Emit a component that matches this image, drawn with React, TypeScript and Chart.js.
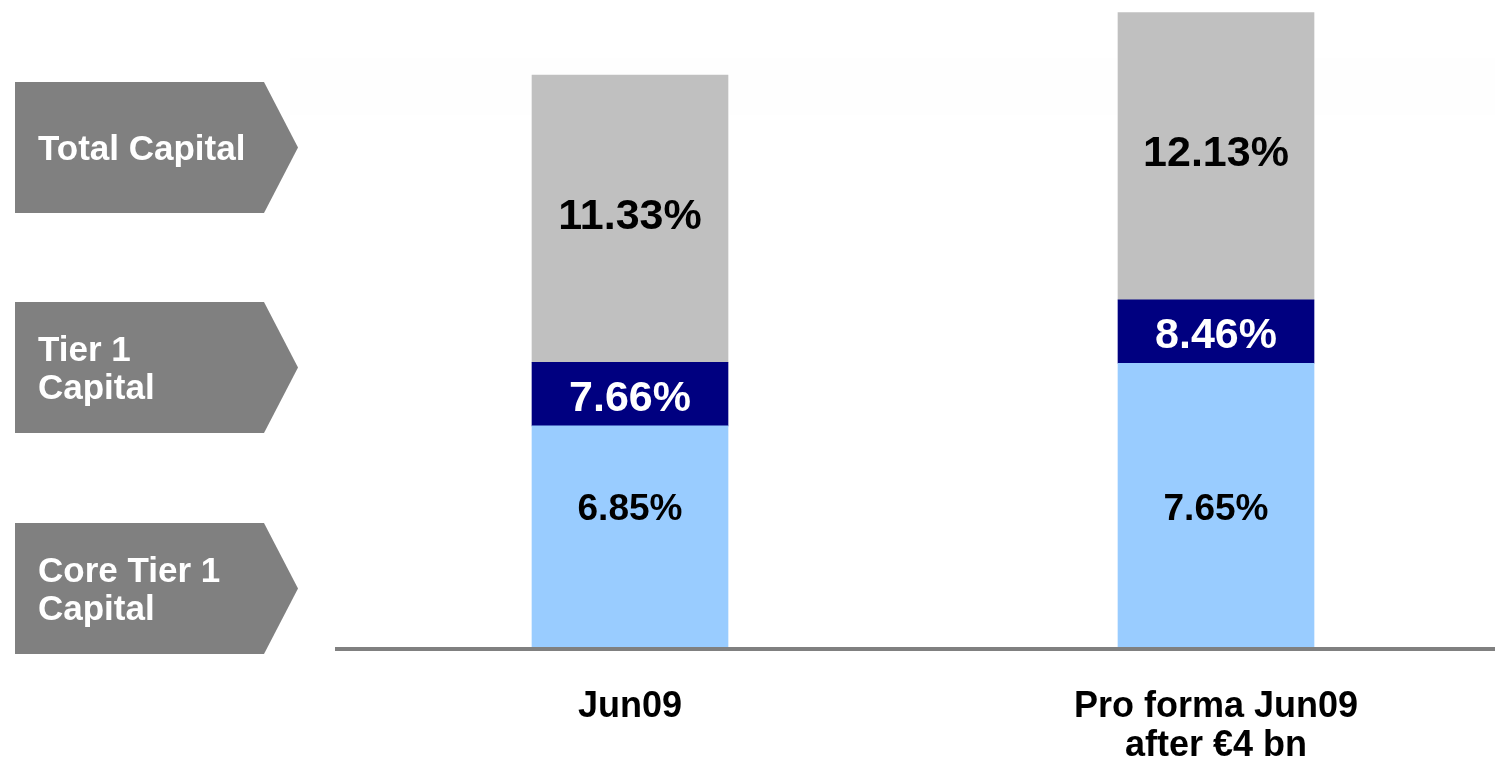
import React, { useEffect, useRef } from "react";
import { Chart, registerables } from "chart.js";

Chart.register(...registerables);

// Categories (x-axis tick labels)
const categories: (string | string[])[] = ["Jun09", ["Pro forma Jun09", "after \u20ac4 bn"]];

// Cumulative capital ratios (%) as shown on the bars
const coreTier1 = [6.85, 7.65];
const tier1 = [7.66, 8.46];
const totalCapital = [11.33, 12.13];

// Left-hand legend arrows
const legendLabels: string[][] = [["Total Capital"], ["Tier 1", "Capital"], ["Core Tier 1", "Capital"]];

// Axis range (axis is truncated at 4%)
const yMin = 4;
const yMax = 12.2;
const coreLabelLevel = 5.78;

const FONT = "'Liberation Sans', Arial, Helvetica, sans-serif";

const fmt = (v: number) => v.toFixed(2) + "%";

const labelPlugin = {
  id: "barLabels",
  afterDatasetsDraw(chart: any) {
    const ctx = chart.ctx;
    const yScale = chart.scales.y;
    ctx.save();
    ctx.textAlign = "center";
    ctx.textBaseline = "middle";
    chart.data.datasets.forEach((ds: any, di: number) => {
      const meta = chart.getDatasetMeta(di);
      meta.data.forEach((el: any, i: number) => {
        const txt = fmt(ds.cumulative[i]);
        let y: number;
        if (di === 0) {
          y = yScale.getPixelForValue(coreLabelLevel);
          ctx.font = `bold 37px ${FONT}`;
          ctx.fillStyle = "#000000";
        } else if (di === 1) {
          y = (el.y + el.base) / 2 + 5;
          ctx.font = `bold 43px ${FONT}`;
          ctx.fillStyle = "#ffffff";
        } else {
          y = (el.y + el.base) / 2 - 2;
          ctx.font = `bold 43px ${FONT}`;
          ctx.fillStyle = "#000000";
        }
        ctx.fillText(txt, el.x, y);
      });
    });
    ctx.restore();
  },
};

const legendPlugin = {
  id: "arrowLegend",
  beforeDraw(chart: any) {
    const ctx = chart.ctx;
    ctx.save();
    ctx.fillStyle = "rgba(0,0,0,0.005)";
    ctx.fillRect(290, 58, 1230, 57);
    const boxes = [
      [82, 213],
      [302, 433],
      [523, 654],
    ];
    boxes.forEach(([top, bottom], k) => {
      const mid = (top + bottom) / 2;
      ctx.fillStyle = "#808080";
      ctx.beginPath();
      ctx.moveTo(15, top);
      ctx.lineTo(264, top);
      ctx.lineTo(298, mid);
      ctx.lineTo(264, bottom);
      ctx.lineTo(15, bottom);
      ctx.closePath();
      ctx.fill();
      const lines = legendLabels[k];
      ctx.fillStyle = "#ffffff";
      ctx.font = `bold 35px ${FONT}`;
      ctx.textAlign = "left";
      ctx.textBaseline = "alphabetic";
      const first = mid + 12 - (lines.length - 1) * 19;
      lines.forEach((t, j) => ctx.fillText(t, 38, first + j * 38));
    });
    ctx.restore();
  },
};

export default function App() {
  const ref = useRef<HTMLCanvasElement | null>(null);
  useEffect(() => {
    if (!ref.current) return;
    const seg = (a: number[], b: number[]) => a.map((v, i) => +(v - b[i]).toFixed(4));
    const chart = new Chart(ref.current, {
      type: "bar",
      data: {
        labels: categories as any,
        datasets: [
          {
            label: "Core Tier 1 Capital",
            data: coreTier1,
            cumulative: coreTier1,
            backgroundColor: "#99CCFF",
            barThickness: 196,
          } as any,
          {
            label: "Tier 1 Capital",
            data: seg(tier1, coreTier1),
            cumulative: tier1,
            backgroundColor: "#000080",
            barThickness: 196,
          } as any,
          {
            label: "Total Capital",
            data: seg(totalCapital, tier1),
            cumulative: totalCapital,
            backgroundColor: "#C0C0C0",
            barThickness: 196,
          } as any,
        ],
      },
      options: {
        responsive: false,
        animation: false,
        devicePixelRatio: 1,
        layout: { padding: { left: 337, right: 11, top: 7, bottom: 0 } },
        plugins: {
          legend: { display: false },
          tooltip: { enabled: false },
        },
        scales: {
          x: {
            stacked: true,
            grid: { display: false, drawTicks: false },
            border: { display: true, color: "#808080", width: 4, z: 1 },
            ticks: {
              color: "#000000",
              font: { family: FONT, size: 36, weight: "bold", lineHeight: 1.083 },
              padding: 39,
              maxRotation: 0,
              autoSkip: false,
            },
            afterFit: (scale: any) => {
              scale.height = 113;
            },
          },
          y: {
            stacked: true,
            display: false,
            min: yMin,
            max: yMax,
          },
        },
      } as any,
      plugins: [legendPlugin, labelPlugin],
    });
    return () => chart.destroy();
  }, []);
  return (
    <div
      style={{
        position: "fixed",
        left: 0,
        top: 0,
        width: 1495,
        height: 762,
        overflow: "hidden",
        background: "#ffffff",
      }}
    >
      <canvas ref={ref} width={1520} height={762} style={{ display: "block" }} />
    </div>
  );
}
